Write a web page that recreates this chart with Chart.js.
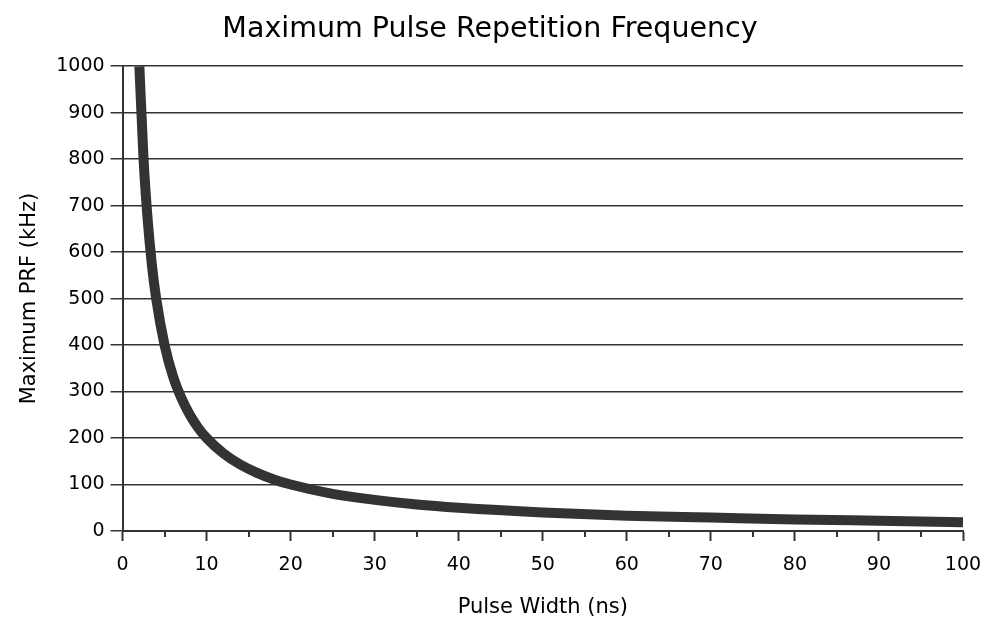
<!DOCTYPE html>
<html>
<head>
<meta charset="utf-8">
<script src="https://cdn.jsdelivr.net/npm/chart.js@4/dist/chart.umd.min.js"></script>
<style>
  html, body { margin: 0; padding: 0; background: #fff; }
  #wrap { width: 987px; height: 620px; }
</style>
</head>
<body>
<div id="wrap"><canvas id="chart1" width="987" height="620"></canvas></div>
<script>
// values
var pulseWidth = [2, 2.5, 3, 3.5, 4, 5, 6, 7, 8, 9, 10, 12, 14, 16, 18, 20, 25, 30, 35, 40, 50, 60, 70, 80, 90, 100];
var maxPrf = [1000, 800, 667, 571, 500, 400, 333, 286, 250, 222, 200, 167, 143, 125, 111, 100, 80, 67, 57, 50, 40, 33, 29, 25, 22, 19];
var xMajorTicks = [0, 10, 20, 30, 40, 50, 60, 70, 80, 90, 100];
var xMinorTicks = [5, 15, 25, 35, 45, 55, 65, 75, 85, 95];
var yTicks = [0, 100, 200, 300, 400, 500, 600, 700, 800, 900, 1000];

var lineCol = "#333333";
var textCol = "#000000";
var fontName = "'DejaVu Sans', sans-serif";

var points = pulseWidth.map((x, i) => ({ x: x, y: maxPrf[i] }));

// short minor ticks on the x axis at the 5s
var minorTickPlugin = {
    id: "minorTicks",
    afterDraw(chart) {
        var ctx = chart.ctx;
        var xs = chart.scales.x;
        var bottom = chart.chartArea.bottom;
        ctx.save();
        ctx.strokeStyle = lineCol;
        ctx.lineWidth = 2;
        xMinorTicks.forEach(v => {
            var px = Math.round(xs.getPixelForValue(v));
            ctx.beginPath();
            ctx.moveTo(px, bottom);
            ctx.lineTo(px, bottom + 6);
            ctx.stroke();
        });
        ctx.restore();
    }
};

new Chart(document.getElementById("chart1").getContext("2d"), {
    type: "scatter",
    data: {
        datasets: [{
            data: points,
            showLine: true,
            borderColor: lineCol,
            backgroundColor: lineCol,
            borderWidth: 10,
            borderCapStyle: "butt",
            pointRadius: 0,
            cubicInterpolationMode: "monotone"
        }]
    },
    options: {
        responsive: false,
        animation: false,
        layout: { padding: { left: 17, right: 24, top: 0, bottom: 0 } },
        plugins: {
            legend: { display: false },
            tooltip: { enabled: false },
            title: {
                display: true,
                text: "Maximum Pulse Repetition Frequency",
                color: textCol,
                font: { family: fontName, size: 28.5, weight: "normal" },
                padding: { top: 12, bottom: 20 }
            }
        },
        scales: {
            x: {
                type: "linear",
                min: 0,
                max: 100,
                afterBuildTicks: axis => { axis.ticks = xMajorTicks.map(v => ({ value: v })); },
                afterFit: axis => { axis.paddingRight = 0; },
                ticks: {
                    color: textCol,
                    font: { family: fontName, size: 19 },
                    padding: 13,
                    maxRotation: 0,
                    callback: v => String(v)
                },
                grid: {
                    drawOnChartArea: false,
                    drawTicks: true,
                    tickLength: 10,
                    tickColor: lineCol,
                    tickWidth: 2
                },
                border: { display: true, color: lineCol, width: 2 },
                title: {
                    display: true,
                    text: "Pulse Width (ns)",
                    color: textCol,
                    font: { family: fontName, size: 21 },
                    padding: { top: 5, bottom: 0 }
                }
            },
            y: {
                type: "linear",
                min: 0,
                max: 1000,
                afterBuildTicks: axis => { axis.ticks = yTicks.map(v => ({ value: v })); },
                ticks: {
                    color: textCol,
                    font: { family: fontName, size: 19 },
                    padding: 6,
                    callback: v => String(v)
                },
                grid: {
                    drawOnChartArea: true,
                    color: lineCol,
                    lineWidth: 1.5,
                    tickLength: 12
                },
                border: { display: true, color: lineCol, width: 2 },
                title: {
                    display: true,
                    text: "Maximum PRF (kHz)",
                    color: textCol,
                    font: { family: fontName, size: 21 },
                    padding: { top: 0, bottom: 8 }
                }
            }
        }
    },
    plugins: [minorTickPlugin]
});
</script>
</body>
</html>
